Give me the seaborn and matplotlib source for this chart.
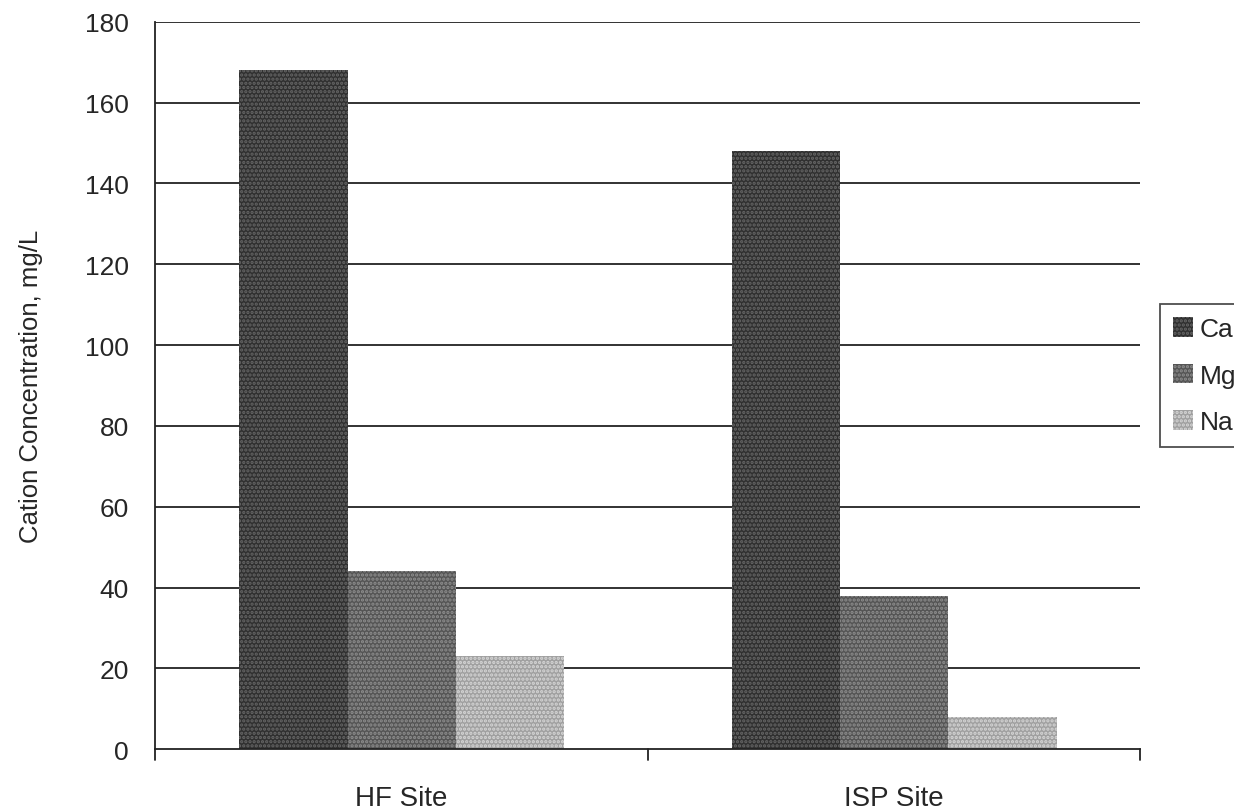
import pandas as pd
import matplotlib.pyplot as plt
import seaborn as sns

# data
sites = ["HF Site", "ISP Site"]
cations = ["Ca", "Mg", "Na"]
ca_vals = [168, 148]
mg_vals = [44, 38]
na_vals = [23, 8]

df = pd.DataFrame({
    "site": sites * 3,
    "cation": [c for c in cations for _ in sites],
    "conc": ca_vals + mg_vals + na_vals,
})

sns.set_style("white")
plt.rcParams["font.family"] = ["Liberation Sans", "DejaVu Sans"]
plt.rcParams["hatch.linewidth"] = 1.6

fig, ax = plt.subplots(figsize=(12.34, 8.12), dpi=100)
fig.subplots_adjust(left=0.126, right=0.924, top=0.972, bottom=0.076)

palette = {"Ca": "#303030", "Mg": "#555555", "Na": "#a0a0a0"}
sns.barplot(data=df, x="site", y="conc", hue="cation", hue_order=cations,
            palette=palette, width=0.66, saturation=1, ax=ax,
            edgecolor="none", linewidth=0, gap=0, legend=False)

# dotted screen texture like the printed original
hatch_style = {"Ca": ("....", "#666666"), "Mg": ("....", "#8e8e8e"),
               "Na": ("....", "#d6d6d6")}
for cont, cat in zip(ax.containers, cations):
    h, hc = hatch_style[cat]
    for bar in cont:
        bar.set_hatch(h)
        bar.set_edgecolor(hc)
        bar.set_linewidth(0)

# horizontal gridlines
ax.set_ylim(0, 180)
ax.set_yticks(range(0, 181, 20))
for y in range(20, 181, 20):
    ax.axhline(y, color="#222222", lw=1.3, zorder=0)
ax.set_axisbelow(True)

ax.set_xlim(-0.5, 1.5)
ax.set_xlabel("")
ax.set_ylabel("Cation Concentration, mg/L", fontsize=18.5, labelpad=30)

for s in ["top", "right"]:
    ax.spines[s].set_visible(False)
for s in ["left", "bottom"]:
    ax.spines[s].set_color("#222222")
    ax.spines[s].set_linewidth(1.3)

# category boundary ticks on the x axis
ax.set_xticks([0, 1])
ax.set_xticklabels(sites, fontsize=20)
ax.tick_params(axis="x", length=0, pad=26)
for xb in [-0.5, 0.5, 1.5]:
    ax.plot([xb, xb], [0, -2.6], color="#222222", lw=1.3, clip_on=False)
ax.tick_params(axis="y", labelsize=19, length=9, width=1.3, color="#222222",
               direction="out", pad=10)

# legend with the same textured patches
handles = []
for cont, cat in zip(ax.containers, cations):
    p = plt.Rectangle((0, 0), 1, 1, facecolor=palette[cat],
                      hatch=hatch_style[cat][0],
                      edgecolor=hatch_style[cat][1], linewidth=0)
    handles.append(p)
leg = fig.legend(handles, cations, loc="upper left",
                 bbox_to_anchor=(1160 / 1234, 1 - 305 / 812),
                 frameon=True, fontsize=19, handlelength=0.75,
                 handleheight=0.75, handletextpad=0.25, labelspacing=0.85,
                 borderpad=0.5, borderaxespad=0, fancybox=False,
                 edgecolor="#222222")
leg.get_frame().set_linewidth(1.3)

fig.savefig("out.png", dpi=100)
